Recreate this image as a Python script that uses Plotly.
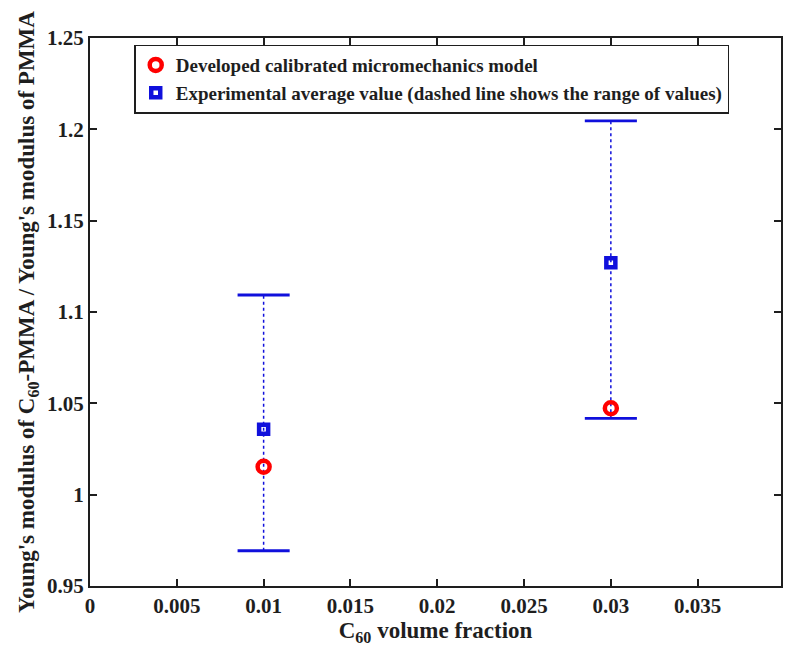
import plotly.graph_objects as go

# Data
volume_fraction = [0.01, 0.03]
model_ratio = [1.0153, 1.0473]
exp_avg = [1.0358, 1.1270]
exp_min = [0.9693, 1.0418]
exp_max = [1.1093, 1.2046]

x_ticks = [0, 0.005, 0.01, 0.015, 0.02, 0.025, 0.03, 0.035]
x_ticklabels = ["0", "0.005", "0.01", "0.015", "0.02", "0.025", "0.03", "0.035"]
y_ticks = [0.95, 1.0, 1.05, 1.1, 1.15, 1.2, 1.25]
y_ticklabels = ["0.95", "1", "1.05", "1.1", "1.15", "1.2", "1.25"]

BLUE = "#1010dc"
RED = "#ff0000"
CAP_HALF = 0.0015  # half width of range caps, in x data units (style)
FONT = "Liberation Serif"
INK = "#1e1e1e"

fig = go.Figure()

# dotted range lines and caps
for xv, lo, hi in zip(volume_fraction, exp_min, exp_max):
    fig.add_trace(go.Scatter(x=[xv, xv], y=[lo, hi], mode="lines",
                             line=dict(color=BLUE, width=1.5, dash="dot"),
                             showlegend=False, hoverinfo="skip"))
    for yv in (lo, hi):
        fig.add_trace(go.Scatter(x=[xv - CAP_HALF, xv + CAP_HALF], y=[yv, yv],
                                 mode="lines", line=dict(color=BLUE, width=2.8),
                                 showlegend=False, hoverinfo="skip"))

fig.add_trace(go.Scatter(
    x=volume_fraction, y=model_ratio, mode="markers",
    name="Developed calibrated micromechanics model",
    marker=dict(symbol="circle-open", size=12, color=RED, line=dict(width=4.5, color=RED))))

fig.add_trace(go.Scatter(
    x=volume_fraction, y=exp_avg, mode="markers",
    name="Experimental average value (dashed line shows the range of values)",
    marker=dict(symbol="square-open", size=9, color=BLUE, line=dict(width=4.5, color=BLUE))))

axis_common = dict(showline=True, linecolor=INK, linewidth=2, mirror="ticks",
                   ticks="inside", ticklen=7, tickwidth=1.5, tickcolor=INK,
                   showgrid=False, zeroline=False,
                   tickfont=dict(family=FONT, size=21, color=INK, weight="bold"))

fig.update_layout(
    width=793, height=661,
    margin=dict(l=90, r=10, t=38, b=75),
    paper_bgcolor="white", plot_bgcolor="white",
    font=dict(family=FONT, color=INK, weight="bold"),
    xaxis=dict(range=[0, 0.0398], tickvals=x_ticks, ticktext=x_ticklabels,
               title=dict(text="C<sub>60</sub> volume fraction",
                          font=dict(family=FONT, size=23, weight="bold"), standoff=4),
               **axis_common),
    yaxis=dict(range=[0.95, 1.25], tickvals=y_ticks, ticktext=y_ticklabels,
               title=dict(text="Young's modulus of C<sub>60</sub>-PMMA / Young's modulus of PMMA",
                          font=dict(family=FONT, size=23, weight="bold"), standoff=6),
               **axis_common),
    legend=dict(x=0.064, y=0.988, xanchor="left", yanchor="top",
                bgcolor="white", bordercolor=INK, borderwidth=1.5,
                font=dict(family=FONT, size=19, weight="bold", color=INK),
                tracegroupgap=0, itemwidth=30),
)

fig.write_html("out.html")
